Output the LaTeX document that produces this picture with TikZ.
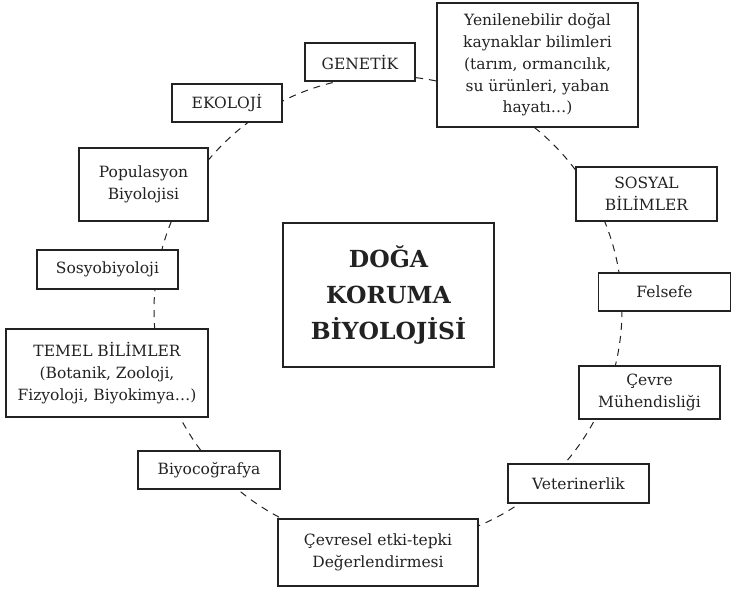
\documentclass[tikz,border=0pt]{standalone}
\usepackage{fontspec}
\setmainfont{DejaVu Serif}
\definecolor{ink}{HTML}{222222}
\begin{document}
\begin{tikzpicture}[x=1pt,y=-1pt,
  box/.style={draw=ink, line width=1.3pt, fill=white, align=center, inner sep=0pt,
    text=ink, font=\fontsize{15.5}{21.7}\selectfont},
  ring/.style={draw=ink, line width=1pt, dash pattern=on 7pt off 6pt},
  title/.style={box, font=\bfseries\fontsize{23.5}{36}\selectfont}]
\useasboundingbox (0,0) rectangle (732,589);
\coordinate (ringc) at (388,310);
\draw[ring] (ringc) circle[radius=234];
\node[title, minimum width=211, minimum height=144] (main) at (388.5,295) {DOĞA\\KORUMA\\BİYOLOJİSİ};
\node[box, minimum width=110, minimum height=38] (gen) at (360,62) {GENETİK};
\node[box, minimum width=201, minimum height=124] (yen) at (537.5,65) {Yenilenebilir doğal\\kaynaklar bilimleri\\(tarım, ormancılık,\\su ürünleri, yaban\\hayatı…)};
\node[box, minimum width=141, minimum height=54] (sos) at (646.5,194) {SOSYAL\\BİLİMLER};
\node[box, minimum width=110, minimum height=38] (eko) at (227,103) {EKOLOJİ};
\node[box, minimum width=129, minimum height=73] (pop) at (143.5,184.5) {Populasyon\\Biyolojisi};
\node[box, minimum width=141, minimum height=39] (sby) at (107.5,269.5) {Sosyobiyoloji};
\node[box, minimum width=202, minimum height=88] (tem) at (107,373) {TEMEL BİLİMLER\\(Botanik, Zooloji,\\Fizyoloji, Biyokimya…)};
\node[box, minimum width=142, minimum height=38] (bco) at (209,470) {Biyocoğrafya};
\node[box, minimum width=132, minimum height=38] (fel) at (664.5,292) {Felsefe};
\node[box, minimum width=141, minimum height=53] (cev) at (649.5,392.5) {Çevre\\Mühendisliği};
\node[box, minimum width=141, minimum height=39] (vet) at (578.5,483.5) {Veterinerlik};
\node[box, minimum width=200, minimum height=67] (ces) at (378,552.5) {Çevresel etki-tepki\\Değerlendirmesi};
\end{tikzpicture}
\end{document}
